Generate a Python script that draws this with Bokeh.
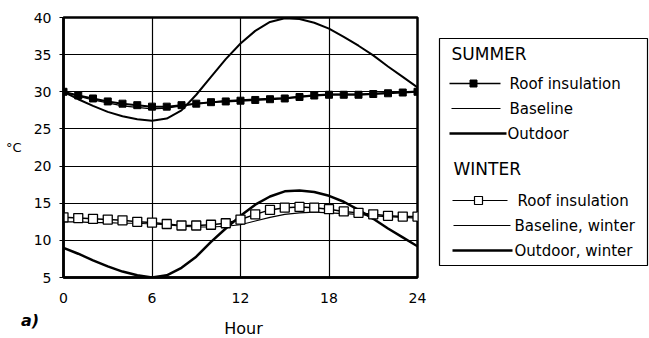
from bokeh.plotting import figure
from bokeh.models import Range1d, FixedTicker
from bokeh.core.properties import value
from bokeh.layouts import row, column
from bokeh.embed import file_html
from bokeh.resources import INLINE

# ---------------- data ----------------
hours = list(range(25))
summer_roof = [30.0, 29.5, 29.1, 28.7, 28.4, 28.2, 28.0, 28.0, 28.2, 28.4, 28.6, 28.7, 28.8,
               28.9, 29.0, 29.1, 29.3, 29.5, 29.6, 29.6, 29.6, 29.7, 29.8, 29.9, 30.0]
summer_base = [30.0, 29.4, 28.9, 28.5, 28.1, 27.9, 27.7, 27.8, 28.1, 28.4, 28.6, 28.8, 28.9,
               29.0, 29.1, 29.2, 29.4, 29.6, 29.7, 29.7, 29.7, 29.8, 29.9, 30.0, 30.1]
summer_out = [30.0, 29.0, 28.1, 27.3, 26.7, 26.3, 26.1, 26.4, 27.5, 29.6, 32.0, 34.4, 36.5,
              38.2, 39.4, 39.9, 39.8, 39.3, 38.5, 37.4, 36.2, 34.9, 33.4, 32.0, 30.6]
winter_roof = [13.1, 13.0, 12.9, 12.8, 12.7, 12.5, 12.4, 12.2, 12.0, 12.0, 12.1, 12.3, 12.8,
               13.5, 14.1, 14.4, 14.5, 14.4, 14.2, 13.9, 13.7, 13.5, 13.3, 13.2, 13.2]
winter_base = [12.5, 12.5, 12.4, 12.4, 12.3, 12.3, 12.2, 12.1, 11.9, 11.8, 11.8, 11.9, 12.1,
               12.6, 13.1, 13.5, 13.7, 13.8, 13.7, 13.6, 13.5, 13.3, 13.2, 13.1, 13.0]
winter_out = [9.0, 8.2, 7.3, 6.5, 5.8, 5.3, 5.0, 5.3, 6.3, 7.8, 9.8, 11.6, 13.3,
              14.8, 15.9, 16.6, 16.7, 16.5, 16.0, 15.2, 14.1, 12.9, 11.6, 10.4, 9.2]
x_ticks = [0, 6, 12, 18, 24]
y_ticks = [5, 10, 15, 20, 25, 30, 35, 40]
summer_labels = ["Roof insulation", "Baseline", "Outdoor"]
winter_labels = ["Roof insulation", "Baseline, winter", "Outdoor, winter"]

FONT = "DejaVu Sans"

# ---------------- main chart ----------------
p = figure(width=430, height=309, x_range=Range1d(0, 24), y_range=Range1d(5, 40),
           output_backend="svg", toolbar_location=None,
           min_border_left=63, min_border_right=13, min_border_top=17, min_border_bottom=32)
p.frame_align = False
p.background_fill_color = "white"
p.border_fill_color = "white"
p.outline_line_color = "black"
p.outline_line_width = 2.5

p.xaxis.ticker = FixedTicker(ticks=x_ticks)
p.yaxis.ticker = FixedTicker(ticks=y_ticks)
for ax in (p.xaxis, p.yaxis):
    ax.axis_line_color = "black"
    ax.axis_line_width = 2.5
    ax.major_tick_line_color = "black"
    ax.minor_tick_line_color = None
    ax.major_label_text_font = FONT
    ax.major_label_text_font_size = "14px"
    ax.major_label_text_color = "black"
p.xaxis.major_tick_out = 0
p.xaxis.major_tick_in = 3
p.xaxis.major_label_standoff = 15
p.yaxis.major_tick_out = 4
p.yaxis.major_tick_in = 3
p.yaxis.major_label_standoff = 8
p.yaxis.axis_label = "°C"
p.yaxis.axis_label_orientation = "horizontal"
p.yaxis.axis_label_text_font = FONT
p.yaxis.axis_label_text_font_size = "13px"
p.yaxis.axis_label_text_font_style = "normal"
p.yaxis.axis_label_text_color = "black"
p.yaxis.axis_label_standoff = 9
p.grid.grid_line_color = "black"
p.grid.grid_line_width = 1.2
p.grid.grid_line_alpha = 1.0

# summer
p.line(hours, summer_base, line_color="black", line_width=1.2)
p.line(hours, summer_out, line_color="black", line_width=2.0)
p.line(hours, summer_roof, line_color="black", line_width=2.0)
p.scatter(hours, summer_roof, marker="square", size=7, fill_color="black", line_color="black")
# winter
p.line(hours, winter_base, line_color="black", line_width=1.2)
p.line(hours, winter_out, line_color="black", line_width=2.5)
p.line(hours, winter_roof, line_color="black", line_width=1.5)
p.scatter(hours, winter_roof, marker="square", size=9, fill_color="white", line_color="black",
          line_width=1.3)

# ---------------- bottom strip: panel tag and x title ----------------
s = figure(width=430, height=29, x_range=Range1d(0, 430), y_range=Range1d(29, 0),
           output_backend="svg", toolbar_location=None,
           x_axis_location=None, y_axis_location=None,
           min_border=0, min_border_left=0, min_border_right=0, min_border_top=0,
           min_border_bottom=0)
s.frame_align = False
s.outline_line_color = None
s.grid.visible = False
s.text(x=[29.5], y=[10.5], text=["a)"], text_font=value(FONT), text_font_size="16px",
       text_font_style="bold italic", text_align="center", text_baseline="middle",
       text_color="black")
s.text(x=[243], y=[19], text=["Hour"], text_font=value(FONT), text_font_size="16px",
       text_align="center", text_baseline="middle", text_color="black")

# ---------------- legend panel ----------------
q = figure(width=219, height=338, x_range=Range1d(0, 219), y_range=Range1d(338, 0),
           output_backend="svg", toolbar_location=None,
           x_axis_location=None, y_axis_location=None,
           min_border=0, min_border_left=0, min_border_right=0, min_border_top=0,
           min_border_bottom=0)
q.frame_align = False
q.outline_line_color = None
q.grid.visible = False
q.background_fill_color = "white"
q.border_fill_color = "white"

q.quad(left=[9], right=[217], top=[38], bottom=[265], fill_color="white",
       line_color="black", line_width=1.2)

q.text(x=[21, 23], y=[53, 168], text=["SUMMER", "WINTER"], text_font=value(FONT),
       text_font_size="17px", text_baseline="middle", text_color="black")
q.text(x=[79, 79, 77], y=[83, 108, 133], text=summer_labels, text_font=value(FONT),
       text_font_size="15px", text_baseline="middle", text_color="black")
q.text(x=[87, 84, 84], y=[200, 225, 250], text=winter_labels, text_font=value(FONT),
       text_font_size="15px", text_baseline="middle", text_color="black")

q.segment(x0=[19, 21, 19, 22, 23, 22], x1=[70, 70, 76, 77, 80, 82],
          y0=[83, 108, 133, 200, 225, 250], y1=[83, 108, 133, 200, 225, 250],
          line_color="black", line_width=[1.5, 1.0, 2.5, 1.2, 1.0, 2.5])
q.scatter(x=[43], y=[83], marker="square", size=7, fill_color="black", line_color="black")
q.scatter(x=[48], y=[200], marker="square", size=8, fill_color="white", line_color="black",
          line_width=1.2)

layout = row(column(p, s), q)
open("out.html", "w").write(file_html(layout, INLINE))
